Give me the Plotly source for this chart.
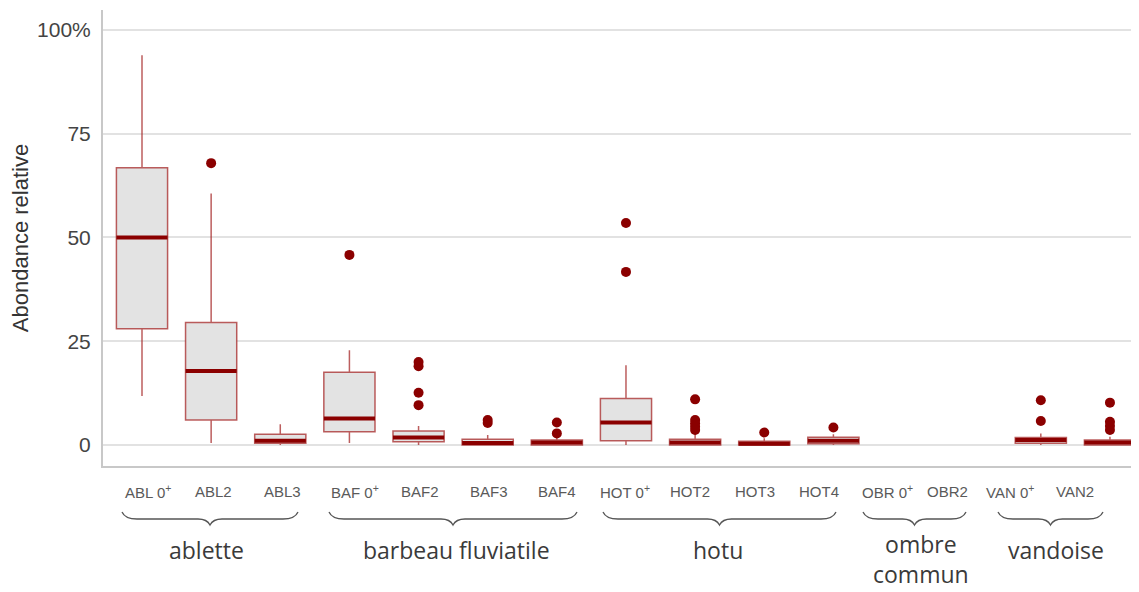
import plotly.graph_objects as go

# ---------------- data ----------------
categories = ["ABL 0+", "ABL2", "ABL3", "BAF 0+", "BAF2", "BAF3", "BAF4",
              "HOT 0+", "HOT2", "HOT3", "HOT4", "OBR 0+", "OBR2", "VAN 0+", "VAN2"]
tick_labels = ["ABL 0<sup>+</sup>", "ABL2", "ABL3", "BAF 0<sup>+</sup>", "BAF2", "BAF3", "BAF4",
               "HOT 0<sup>+</sup>", "HOT2", "HOT3", "HOT4", "OBR 0<sup>+</sup>", "OBR2",
               "VAN 0<sup>+</sup>", "VAN2"]
groups = ["ablette", "barbeau fluviatile", "hotu", "ombre<br>commun", "vandoise"]

box_x = ["ABL 0+", "ABL2", "ABL3", "BAF 0+", "BAF2", "BAF3", "BAF4",
         "HOT 0+", "HOT2", "HOT3", "HOT4", "VAN 0+", "VAN2"]
lower_fence = [11.8, 0.5, 0.0, 0.5, 0.0, 0.0, 0.0, 0.0, 0.0, 0.0, 0.0, 0.0, 0.0]
q1 =          [28.0, 6.0, 0.4, 3.2, 0.8, 0.0, 0.0, 1.0, 0.0, 0.0, 0.3, 0.4, 0.0]
median =      [50.0, 17.8, 1.0, 6.4, 1.8, 0.5, 0.6, 5.4, 0.6, 0.3, 1.0, 1.2, 0.6]
q3 =          [66.8, 29.5, 2.6, 17.5, 3.4, 1.4, 1.2, 11.2, 1.4, 0.9, 1.85, 1.8, 1.2]
upper_fence = [93.9, 60.6, 5.0, 22.8, 4.6, 2.4, 1.8, 19.2, 2.8, 1.6, 2.6, 2.8, 2.0]

outlier_x = ["ABL2", "BAF 0+", "BAF2", "BAF2", "BAF2", "BAF2", "BAF3", "BAF3",
             "BAF4", "BAF4", "HOT 0+", "HOT 0+", "HOT2", "HOT2", "HOT2", "HOT2", "HOT2",
             "HOT3", "HOT4", "VAN 0+", "VAN 0+", "VAN2", "VAN2", "VAN2", "VAN2"]
outlier_y = [67.9, 45.8, 20.0, 19.0, 12.6, 9.6, 6.0, 5.3,
             5.4, 2.8, 53.5, 41.7, 11.0, 6.0, 5.2, 4.4, 3.6,
             3.0, 4.2, 10.8, 5.8, 10.2, 5.6, 4.6, 3.6]

y_tickvals = [0, 25, 50, 75, 100]
y_ticktext = ["0", "25", "50", "75", "100%"]

# ---------------- layout constants (pixels, page coordinates) ----------------
OFF = 8                       # default page body margin
W, H = 1139 - OFF, 592 - OFF
PLOT_L, PLOT_R, PLOT_T, PLOT_B = 103, 1139, 10, 466   # plot area on the page
L, T = PLOT_L - OFF, PLOT_T - OFF
R = W - (PLOT_R - OFF)
B = H - (PLOT_B - OFF)
PW, PH = PLOT_R - PLOT_L, PLOT_B - PLOT_T

def px_x(px):
    return (px - PLOT_L) / PW

def px_y(py):
    return (PLOT_B - py) / PH

label_px = [148, 213, 282, 355, 420, 489, 557, 625, 690, 755, 819, 887, 947, 1010, 1075]
brace_px = [(122, 298), (329, 577), (603, 836), (863, 966), (998, 1103)]
group_center_px = [206, 456, 718, 921, 1056]

DARK_RED = "#8b0000"

fig = go.Figure()

fig.add_trace(go.Box(
    x=box_x, q1=q1, median=median, q3=q3,
    lowerfence=lower_fence, upperfence=upper_fence,
    width=0.74, whiskerwidth=0,
    fillcolor="#e3e3e3",
    line=dict(color="rgba(165,40,40,0.75)", width=1.5),
    boxpoints=False, hoverinfo="skip", showlegend=False,
))

# thick median bars
fig.add_trace(go.Scatter(
    x=box_x, y=median, mode="markers",
    marker=dict(symbol="line-ew", size=36.5, line=dict(width=4, color=DARK_RED)),
    hoverinfo="skip", showlegend=False,
))

# outliers
fig.add_trace(go.Scatter(
    x=outlier_x, y=outlier_y, mode="markers",
    marker=dict(size=10, color=DARK_RED),
    hoverinfo="skip", showlegend=False,
))

fig.update_layout(
    width=W, height=H,
    margin=dict(l=L, r=R, t=T, b=B),
    paper_bgcolor="white", plot_bgcolor="white",
    font=dict(family="Liberation Sans, Arial, sans-serif", color="#444"),
    showlegend=False,
)

fig.update_xaxes(
    type="category", categoryorder="array", categoryarray=categories,
    range=[-0.564, 14.42], showticklabels=False, ticks="",
    showgrid=False, zeroline=False,
    showline=True, linecolor="#c8c8c8", linewidth=2,
)
fig.update_yaxes(
    range=[-5.06, 104.8], tickvals=y_tickvals, ticktext=y_ticktext,
    tickfont=dict(size=21, color="#444"), ticks="", ticklabelstandoff=6,
    showgrid=True, gridcolor="#e2e2e2", gridwidth=2, zeroline=False,
    showline=True, linecolor="#c8c8c8", linewidth=2,
    title=dict(text="Abondance relative", font=dict(size=22, color="#333"), standoff=6),
)

annotations = []
for lbl, px in zip(tick_labels, label_px):
    annotations.append(dict(
        text=lbl, xref="paper", yref="paper", x=px_x(px), y=px_y(491),
        xanchor="center", yanchor="middle", showarrow=False,
        font=dict(size=15, color="#5a5a5a", family="Liberation Sans, Arial, sans-serif"),
    ))

for g, cx in zip(groups, group_center_px):
    multi = "<br>" in g
    annotations.append(dict(
        text=g, xref="paper", yref="paper", x=px_x(cx),
        y=px_y(526) if multi else px_y(550),
        xanchor="center", yanchor="top" if multi else "middle", showarrow=False,
        font=dict(size=23, color="#3a3a3a", family="Open Sans, sans-serif"),
    ))
fig.update_layout(annotations=annotations)

shapes = []
y_top, y_mid, y_tip = 512, 519, 525
for (a, b) in brace_px:
    c = (a + b) / 2
    pts = [
        f"M{px_x(a)},{px_y(y_top)}",
        f"Q{px_x(a + 3)},{px_y(y_mid)} {px_x(a + 15)},{px_y(y_mid)}",
        f"L{px_x(c - 12)},{px_y(y_mid)}",
        f"Q{px_x(c - 3)},{px_y(y_mid)} {px_x(c)},{px_y(y_tip)}",
        f"Q{px_x(c + 3)},{px_y(y_mid)} {px_x(c + 12)},{px_y(y_mid)}",
        f"L{px_x(b - 15)},{px_y(y_mid)}",
        f"Q{px_x(b - 3)},{px_y(y_mid)} {px_x(b)},{px_y(y_top)}",
    ]
    shapes.append(dict(type="path", xref="paper", yref="paper", path=" ".join(pts),
                       line=dict(color="#555", width=1.3)))
fig.update_layout(shapes=shapes)

fig.write_html("out.html")
